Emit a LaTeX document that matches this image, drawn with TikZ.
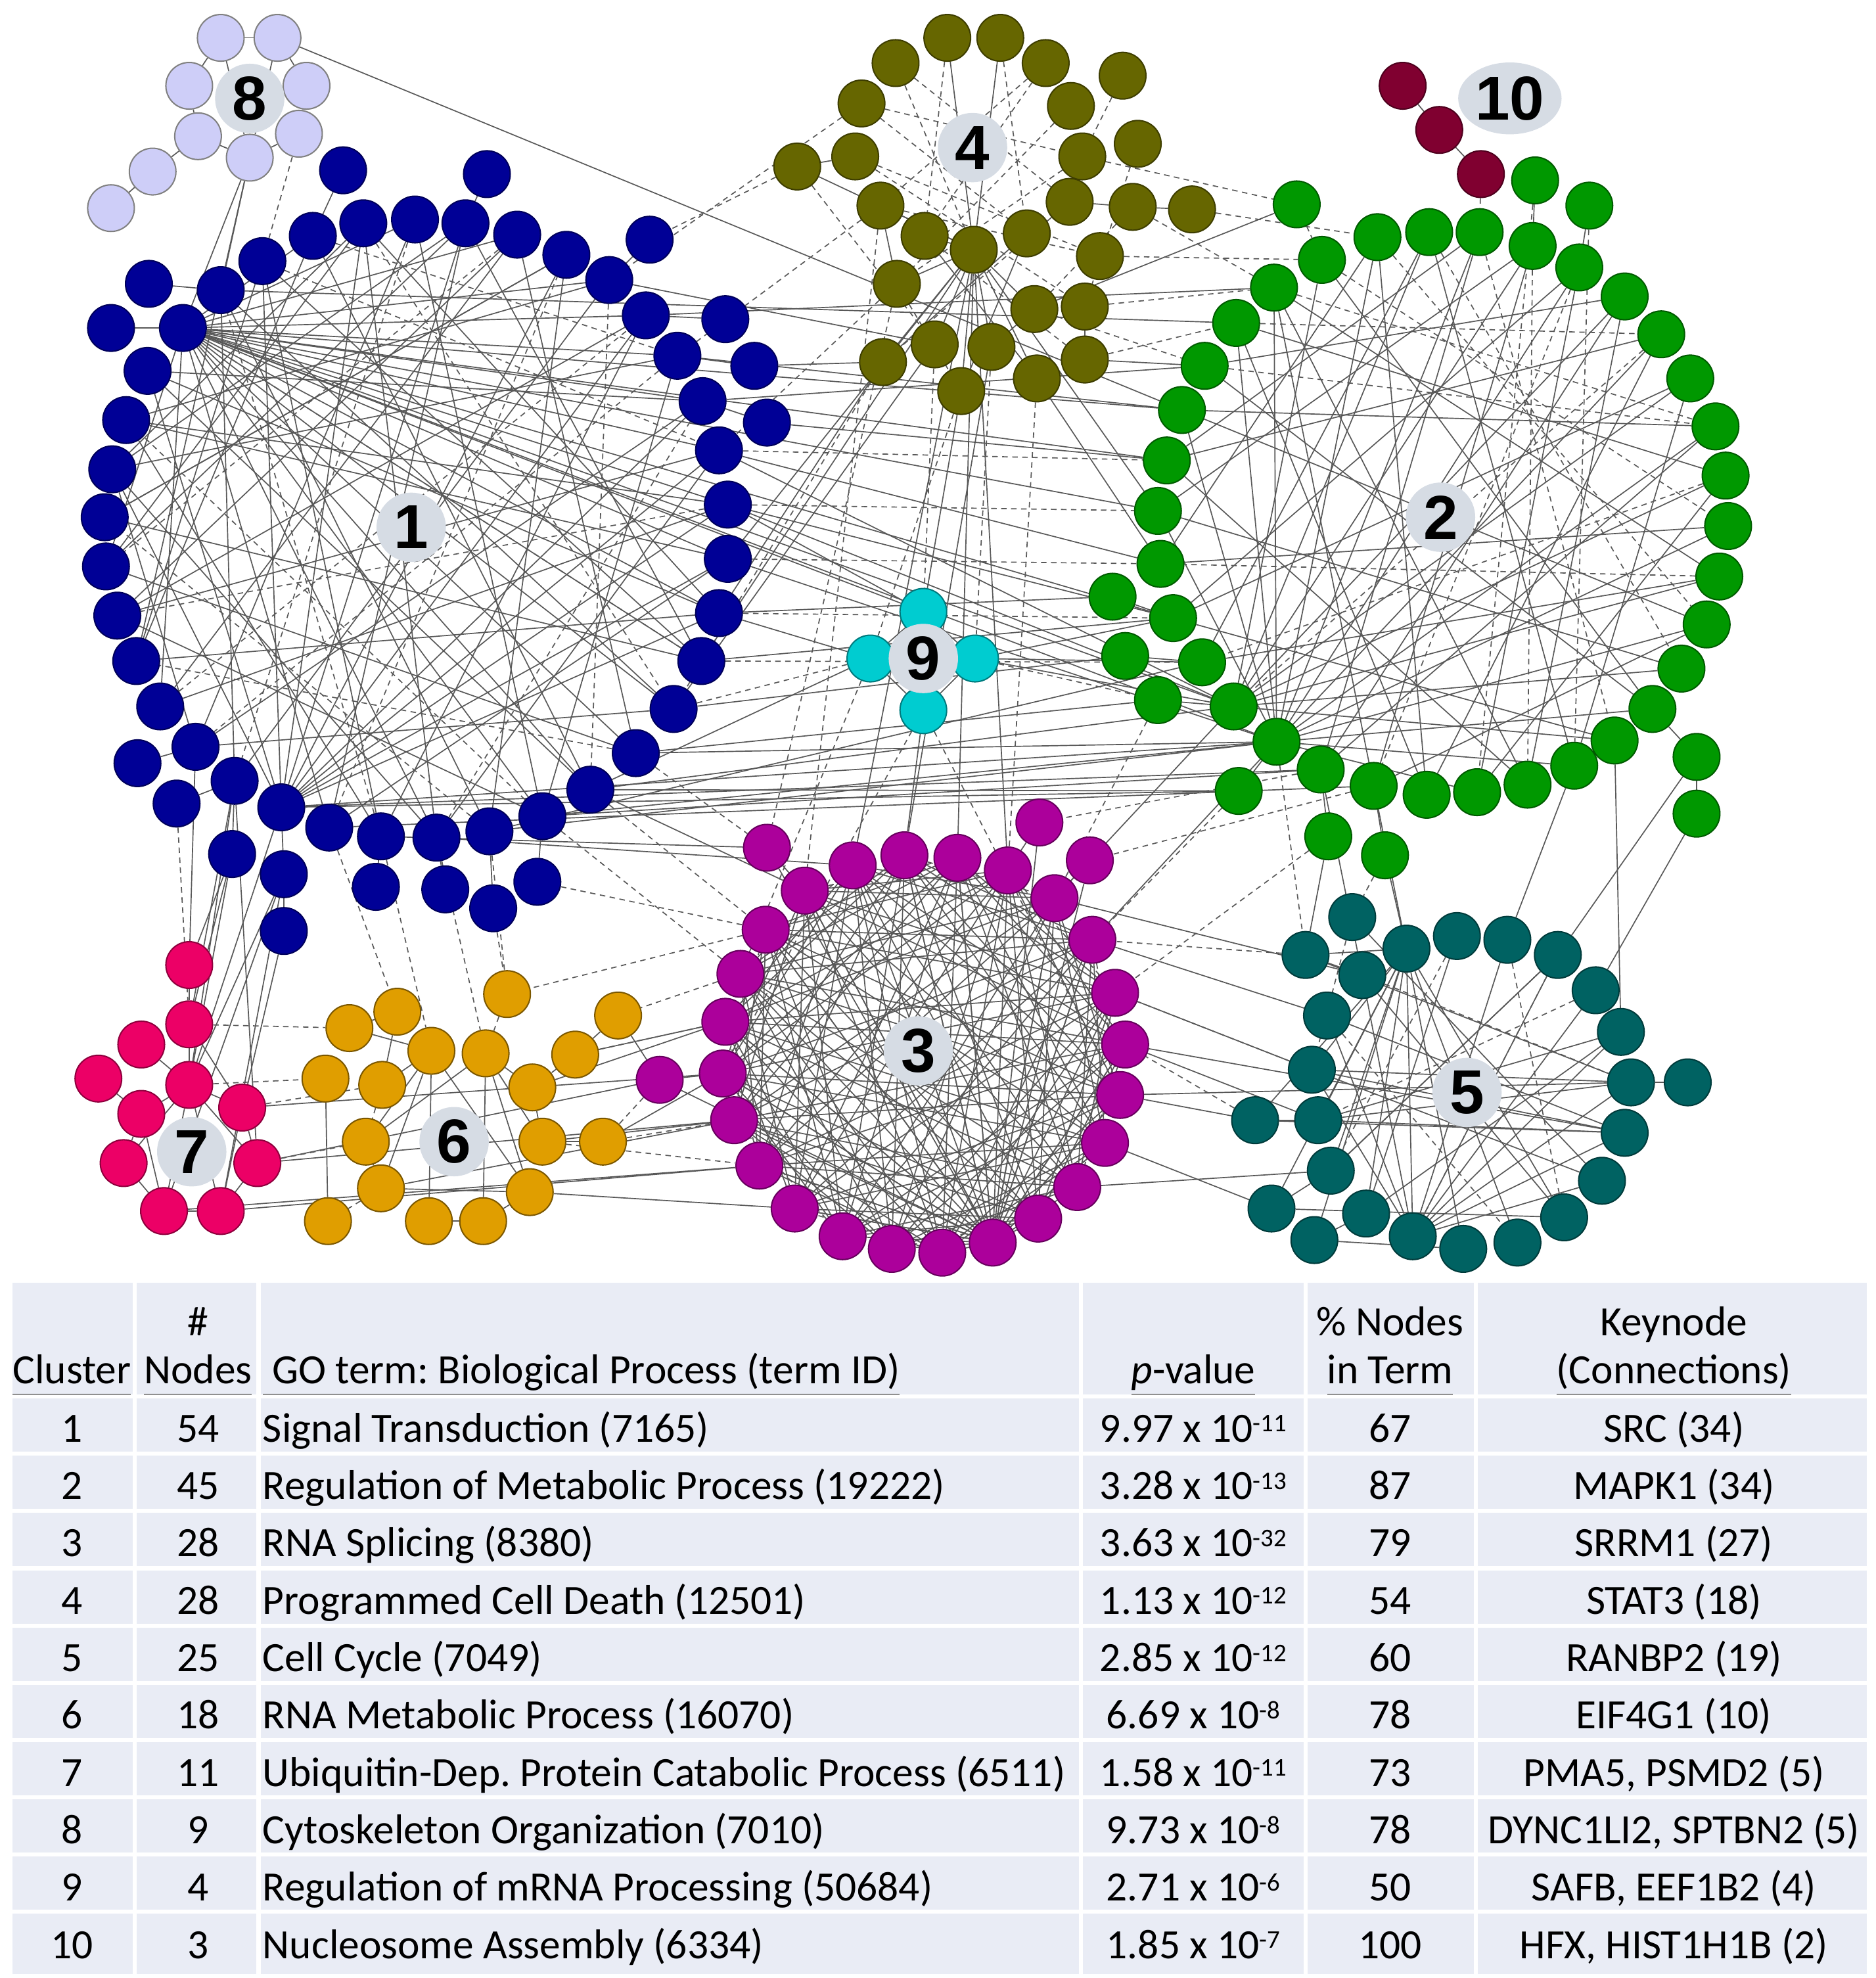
\documentclass[tikz,border=0pt]{standalone}
\usepackage{fontspec}
\setmainfont{Carlito}
\newfontfamily\badgefont{Liberation Sans}
\usetikzlibrary{shapes.geometric}
\frenchspacing

\definecolor{sigblue}{RGB}{0,0,150}
\definecolor{metgreen}{RGB}{0,152,0}
\definecolor{splmag}{RGB}{172,0,155}
\definecolor{pcdolive}{RGB}{102,102,0}
\definecolor{cycteal}{RGB}{0,98,98}
\definecolor{rnagold}{RGB}{224,158,0}
\definecolor{ubqpink}{RGB}{236,0,102}
\definecolor{cytlav}{RGB}{206,206,248}
\definecolor{mrncyan}{RGB}{0,204,208}
\definecolor{nucwine}{RGB}{128,0,48}
\definecolor{badgebg}{RGB}{214,220,228}
\definecolor{tablebg}{RGB}{233,236,245}
\definecolor{linkgray}{RGB}{88,88,88}

\pgfdeclarelayer{links}
\pgfsetlayers{links,main}

\newcommand{\pexp}[1]{\raisebox{4.6pt}{\fontsize{11.5}{12}\selectfont#1}}
\newcommand{\hdul}[1]{\underline{#1\vphantom{gy()}}}

\tikzset{
  gene/.style={circle, minimum size=0.74cm, inner sep=0pt, line width=0.6pt},
  sig/.style={gene, fill=sigblue, draw=sigblue!60!black},
  met/.style={gene, fill=metgreen, draw=metgreen!60!black},
  spl/.style={gene, fill=splmag, draw=splmag!60!black},
  pcd/.style={gene, fill=pcdolive, draw=pcdolive!60!black},
  cyc/.style={gene, fill=cycteal, draw=cycteal!60!black},
  rna/.style={gene, fill=rnagold, draw=rnagold!55!black},
  ubq/.style={gene, fill=ubqpink, draw=ubqpink!60!black},
  cyt/.style={gene, fill=cytlav, draw=gray},
  mrn/.style={gene, fill=mrncyan, draw=mrncyan!60!black},
  nuc/.style={gene, fill=nucwine, draw=nucwine!60!black},
  link/.style={draw=linkgray, line width=0.5pt},
  dlink/.style={link, dash pattern=on 2.5pt off 2pt},
  badge/.style={circle, fill=badgebg, minimum size=1.1cm, inner sep=0pt,
    font=\badgefont\bfseries\fontsize{28}{28}\selectfont},
  cell/.style={inner sep=0pt, anchor=base, font=\fontsize{18.8}{22}\selectfont},
  gridline/.style={white, line width=1.8pt}
}

\begin{document}
\begin{tikzpicture}[x=0.02cm,y=-0.02cm]
\useasboundingbox (0,0) rectangle (1487,1568);

% cluster 1: signal transduction
\foreach \x/\y [count=\i] in {208/207,248/187,288/177,329/174,369/177,410/186,449/202,483/222,512/250,537/282,
  557/318,570/357,577/400,577/443,570/486,556/524,534/562,504/597,468/626,430/647,
  388/659,346/664,302/663,261/656,223/640,186/619,155/592,127/560,108/524,93/488,
  84/449,83/410,89/372,100/333,117/294,145/260,175/230,118/225,88/260,109/605,
  140/637,515/190,575/253,598/290,608/335,272/135,386/138,184/677,225/693,225/738,
  298/703,353/705,391/720,426/699}
  \node[sig] (sig\i) at (\x,\y) {};

% cluster 2: metabolic process
\foreach \x/\y [count=\i] in {1010/228,1048/206,1092/188,1133/184,1173/184,1215/195,1252/212,1288/235,1317/265,1340/300,
  1360/338,1368/377,1370/417,1363/457,1353/495,1333/530,1310/562,1280/587,1248/607,1211/622,
  1171/628,1131/630,1089/623,1047/610,1012/588,978/560,953/525,930/490,920/447,918/405,
  925/365,937/325,955/290,980/256,1028/162,1217/143,1260/163,882/473,892/520,918/555,
  1345/600,982/627,1345/645,1053/663,1098/678}
  \node[met] (met\i) at (\x,\y) {};

% cluster 3: splicing
\foreach \x/\y [count=\i] in {638/706,676/686,717/678,759/680,799/690,836/712,866/745,884/787,892/828,888/868,
  876/906,854/941,823/966,787/985,747/993,707/990,668/980,630/958,602/924,582/888,
  573/851,575/810,587/772,607/737,608/672,824/652,864/682,523/856}
  \node[spl] (spl\i) at (\x,\y) {};

% cluster 4: cell death
\foreach \x/\y [count=\i] in {751/30,793/30,710/50,829/50,890/60,683/82,849/84,902/114,632/132,678/124,
  858/124,698/163,848/160,898/164,945/166,733/187,772/198,814/185,872/203,711/225,
  820/245,860/243,700/287,741/273,786/275,822/300,762/310,860/285}
  \node[pcd] (pcd\i) at (\x,\y) {};

% cluster 5: cell cycle
\foreach \x/\y [count=\i] in {1052/805,1080/773,1115/752,1155/742,1195/745,1235/757,1265/785,1285/818,1293/858,1288/898,
  1270/936,1240/965,1203/985,1160/990,1120/980,1083/962,1055/928,1045/888,1040/848,1072/727,
  1035/757,1338/858,995/888,1008/958,1042/983}
  \node[cyc] (cyc\i) at (\x,\y) {};

% cluster 6: RNA metabolic process
\foreach \x/\y [count=\i] in {315/802,402/788,277/815,490/805,342/833,385/835,456/836,258/855,303/860,422/862,
  290/905,430/905,478/905,302/942,420/945,260/968,340/968,383/968}
  \node[rna] (rna\i) at (\x,\y) {};

% cluster 7: ubiquitin
\foreach \x/\y [count=\i] in {150/765,150/812,112/828,78/855,150/860,112/883,192/878,98/922,204/922,130/960,175/960}
  \node[ubq] (ubq\i) at (\x,\y) {};

% cluster 8: cytoskeleton
\foreach \x/\y [count=\i] in {175/30,220/30,150/68,243/68,157/108,237/106,198/125,121/136,88/165}
  \node[cyt] (cyt\i) at (\x,\y) {};

% cluster 9 and 10
\foreach \x/\y [count=\i] in {732/485,690/522,773/522,732/563}
  \node[mrn] (mrn\i) at (\x,\y) {};
\foreach \x/\y [count=\i] in {1112/68,1141/103,1174/138}
  \node[nuc] (nuc\i) at (\x,\y) {};

% cluster labels
\node[badge] (lab1) at (326,418) {1};
\node[badge] (lab2) at (1142,410) {2};
\node[badge] (lab3) at (728,833) {3};
\node[badge] (lab4) at (771,117) {4};
\node[badge] (lab5) at (1163,866) {5};
\node[badge] (lab6) at (360,905) {6};
\node[badge] (lab7) at (152,913) {7};
\node[badge] (lab8) at (198,78) {8};
\node[badge] (lab9) at (732,522) {9};
\node[badge, ellipse, minimum width=1.64cm, minimum height=1.14cm] (lab10) at (1197,78) {10};

\begin{pgfonlayer}{links}
% inside the clusters
\foreach \a/\b in {36/2,36/4,36/6,36/8,36/9,36/10,36/11,36/12,36/13,36/14,36/15,36/16,36/17,36/18,36/19,36/20,
  36/22,36/24,36/28,36/31,25/1,25/3,25/5,25/7,25/9,25/11,25/12,25/13,25/14,25/15,25/33,25/35,
  1/16,1/23,2/19,2/29,3/15,3/22,3/31,4/20,4/27,5/16,5/24,5/33,6/18,6/28,7/21,7/32,8/26,8/34,
  9/23,9/30,10/20,10/33,11/27,11/35,12/22,12/30,13/28,14/24,14/34,15/29,16/32,17/27,17/37,
  18/31,19/35,20/30,21/37,22/33,23/34,26/37,27/33,29/1,30/6,31/5,32/7,33/3,34/13,35/15,
  38/37,39/36,40/27,41/26,42/8,43/9,44/10,45/11,46/2,47/5,48/26,49/25,50/49,51/23,52/22,53/21,54/20}
  \draw[link] (sig\a) -- (sig\b);
\foreach \a/\b in {1/12,2/10,3/17,4/26,6/31,8/19,10/27,11/22,13/30,16/36,18/29,20/34,21/32,23/37,24/7,28/9}
  \draw[dlink] (sig\a) -- (sig\b);

\foreach \a/\b in {25/1,25/3,25/5,25/7,25/9,25/11,25/13,25/15,25/17,25/19,25/21,25/30,25/32,25/34,
  26/2,26/4,26/6,26/8,26/10,26/12,26/14,26/16,26/18,
  1/14,1/20,2/17,3/22,3/29,4/19,4/27,5/24,5/31,6/23,6/30,7/21,7/28,8/20,8/33,9/22,9/31,10/19,
  10/28,11/24,11/32,12/21,12/34,13/29,14/27,15/23,15/32,16/30,17/33,18/28,20/31,22/34,23/1,24/8,
  36/6,37/7,38/28,39/27,40/26,41/17,43/41,42/25,44/24,45/23}
  \draw[link] (met\a) -- (met\b);
\foreach \a/\b in {1/11,2/13,3/15,4/16,5/18,6/20,7/23,9/26,12/27,14/29,33/11,34/9,36/21,37/19,35/2}
  \draw[dlink] (met\a) -- (met\b);

\foreach \i in {1,...,24}
  \foreach \k in {4,5,7,8,10,11} {
    \pgfmathtruncatemacro{\j}{mod(\i+\k-1,24)+1}
    \draw[link] (spl\i) -- (spl\j);
  }
\foreach \j in {1,...,13} \draw[link] (spl14) -- (spl\j);
\foreach \j in {15,...,28} \draw[link] (spl14) -- (spl\j);
\foreach \i in {1,3,...,23} {
  \pgfmathtruncatemacro{\j}{mod(\i+2,24)+1}
  \draw[dlink] (spl\i) -- (spl\j);
}
\foreach \a/\b in {25/1,26/5,27/6,28/21} \draw[link] (spl\a) -- (spl\b);

\foreach \a/\b in {17/1,17/2,17/12,17/16,17/20,17/21,17/23,17/24,17/25,17/26,17/27,17/9,9/10,13/14,14/15,
  12/20,18/23,18/27,16/26,21/25,22/28}
  \draw[link] (pcd\a) -- (pcd\b);
\foreach \a/\b in {6/11,3/13,4/12,10/22,7/20,9/24,12/19,11/20,13/23,3/17,4/16,6/18,14/21,16/28,1/16,2/18,
  10/19,8/22,5/11,20/27}
  \draw[dlink] (pcd\a) -- (pcd\b);

\foreach \a/\b in {3/12,3/13,3/14,3/15,3/16,3/17,3/18,3/19,3/21,3/23,3/24,3/25,
  15/1,15/2,15/5,15/6,15/7,15/8,15/9,15/10,15/11,15/19,
  18/8,18/9,18/10,19/9,19/10,19/11,1/10,2/12,16/8,17/6,20/11,21/9,23/10,24/12,25/14,
  21/2,23/18,24/17,25/16,22/9,4/16,6/17}
  \draw[link] (cyc\a) -- (cyc\b);
\foreach \a/\b in {4/17,6/15,2/9,7/18,1/13,5/12,20/19} \draw[dlink] (cyc\a) -- (cyc\b);

\foreach \a/\b in {5/17,5/14,5/11,5/15,6/18,6/15,6/11,6/12,6/10,5/9,14/15,17/18,18/15,13/12,4/7,1/9,
  10/12,8/16,3/5,11/14}
  \draw[link] (rna\a) -- (rna\b);
\foreach \a/\b in {2/6,1/3,14/16,7/10,9/11} \draw[dlink] (rna\a) -- (rna\b);

\foreach \a/\b in {5/2,5/6,5/7,5/8,5/9,5/10,5/11,8/10,9/11,10/11,4/6,6/8,7/9,3/5,1/2,2/7,6/10,7/11}
  \draw[link] (ubq\a) -- (ubq\b);
\foreach \a/\b in {1/2,1/3,2/4,3/5,4/6,5/7,6/7,5/8,8/9,1/7,2/7}
  \draw[link] (cyt\a) -- (cyt\b);
\foreach \a/\b in {1/2,1/3,2/4,3/4} \draw[link] (mrn\a) -- (mrn\b);
\foreach \a/\b in {1/2,2/3} \draw[link] (nuc\a) -- (nuc\b);

% between the clusters
\foreach \a/\b in {sig36/met32,sig36/met31,sig36/met30,sig36/met28,sig36/met26,sig36/mrn1,sig36/met25,
  sig37/met34,sig13/met26,sig14/met25,sig12/met29,sig15/met38,sig25/met25,sig25/met24,sig25/met42,
  sig20/met25,sig19/met26,sig21/met27,sig24/met23,sig22/spl2,sig19/spl1,sig23/spl25,sig16/met28,
  sig17/met39,sig18/met40,sig10/met32,sig11/met33,sig9/met1,sig45/met31,sig44/pcd23,sig8/pcd24,
  cyt2/met32,cyt7/sig36,cyt7/sig37,cyt7/sig29,sig48/ubq1,sig48/ubq2,sig48/ubq5,sig49/ubq5,
  sig49/ubq10,sig49/ubq11,sig26/ubq2,sig26/ubq9,sig50/ubq7,sig25/ubq5,sig26/ubq5,sig27/ubq1,
  pcd17/spl4,pcd17/spl5,pcd17/spl2,pcd17/sig14,pcd17/sig16,pcd17/met30,pcd25/spl3,pcd27/mrn1,
  pcd24/sig17,pcd23/sig15,pcd26/met29,pcd28/met33,met35/pcd21,met26/spl6,met25/spl7,met24/cyc2,
  met23/cyc3,met44/cyc21,met45/cyc3,met41/cyc6,met43/cyc7,met19/cyc5,met18/cyc8,spl8/cyc19,
  spl9/cyc18,spl10/cyc23,spl11/cyc24,spl7/cyc1,spl12/cyc17,spl9/cyc10,spl10/cyc9,spl6/cyc2,
  spl28/rna4,spl21/rna13,spl20/rna12,spl22/rna7,spl19/ubq11,spl20/ubq9,spl21/ubq7,spl18/rna15,
  spl28/ubq9,spl22/rna10,spl20/rna14,spl19/ubq10,mrn3/met27,mrn3/met28,mrn2/sig15,mrn1/sig13,
  mrn4/spl3,mrn2/sig19,mrn3/met26,sig20/met24,sig19/met42,sig21/met25,sig18/met25,sig12/met26,sig13/met28}
  \draw[link] (\a) -- (\b);
\foreach \a/\b in {pcd9/sig42,pcd6/sig8,pcd12/sig10,pcd20/sig12,pcd23/sig17,pcd24/mrn1,pcd27/mrn2,
  pcd25/mrn3,pcd26/spl5,pcd28/met34,pcd22/met1,pcd19/met2,pcd21/met33,pcd11/met35,pcd15/met3,
  pcd14/met1,pcd12/spl1,pcd20/spl25,sig12/met31,sig13/met30,sig14/met29,sig15/met28,sig16/met27,
  sig19/spl24,sig20/spl23,sig21/rna2,sig22/rna6,sig24/rna1,sig23/rna5,sig18/spl25,sig17/mrn2,
  mrn4/spl21,mrn4/spl10,mrn3/met40,mrn2/spl23,met40/spl6,met42/spl7,met44/spl8,met45/cyc20,
  met25/cyc21,met24/spl26,met23/spl27,spl28/rna13,spl23/rna4,spl24/rna2,rna13/spl20,rna12/spl19,
  ubq7/rna9,ubq9/rna11,ubq2/rna3,ubq5/rna8,rna7/spl22,cyc21/spl7,cyc23/spl9,cyc19/spl8,nuc3/met5,
  cyt6/sig1,sig41/ubq2,sig53/rna2,sig54/spl24}
  \draw[dlink] (\a) -- (\b);
\end{pgfonlayer}

% table
\fill[tablebg] (10,1017) rectangle (1480,1565);
\foreach \x in {107,205,857,1035,1170} \draw[gridline] (\x,1017) -- (\x,1565);
\foreach \r in {0,...,9} \draw[gridline] (10,{1107+45.4*\r}) -- (1480,{1107+45.4*\r});

\node[cell] (hnum1) at (157,1059) {\#};
\node[cell] (hpct1) at (1102,1059) {\% Nodes};
\node[cell] (hkey1) at (1327,1059) {Keynode};
\node[cell] (hclu) at (57,1097) {\hdul{Cluster}};
\node[cell] (hnum2) at (157,1097) {\hdul{Nodes}};
\node[cell, anchor=base west] (hgo) at (208,1097) {\hdul{\ GO term: Biological Process (term ID)}};
\node[cell] (hpv) at (946,1097) {\hdul{\textit{p}-value}};
\node[cell] (hpct2) at (1102,1097) {\hdul{in Term}};
\node[cell] (hkey2) at (1327,1097) {\hdul{(Connections)}};

\foreach \c/\n/\go/\p/\pc/\kn [count=\r] in {
  1/54/Signal Transduction (7165)/9.97 x 10\pexp{-11}/67/SRC (34),
  2/45/Regulation of Metabolic Process (19222)/3.28 x 10\pexp{-13}/87/MAPK1 (34),
  3/28/RNA Splicing (8380)/3.63 x 10\pexp{-32}/79/SRRM1 (27),
  4/28/Programmed Cell Death (12501)/1.13 x 10\pexp{-12}/54/STAT3 (18),
  5/25/Cell Cycle (7049)/2.85 x 10\pexp{-12}/60/RANBP2 (19),
  6/18/RNA Metabolic Process (16070)/6.69 x 10\pexp{-8}/78/EIF4G1 (10),
  7/11/Ubiquitin-Dep. Protein Catabolic Process (6511)/1.58 x 10\pexp{-11}/73/{PMA5, PSMD2 (5)},
  8/9/Cytoskeleton Organization (7010)/9.73 x 10\pexp{-8}/78/{DYNC1LI2, SPTBN2 (5)},
  9/4/Regulation of mRNA Processing (50684)/2.71 x 10\pexp{-6}/50/{SAFB, EEF1B2 (4)},
  10/3/Nucleosome Assembly (6334)/1.85 x 10\pexp{-7}/100/{HFX, HIST1H1B (2)}} {
  \pgfmathsetmacro{\yb}{1143+45.5*(\r-1)}
  \node[cell] (clu\r) at (57,\yb) {\c};
  \node[cell] (num\r) at (157,\yb) {\n};
  \node[cell, anchor=base west] (go\r) at (208,\yb) {\go};
  \node[cell] (pv\r) at (946,\yb) {\p};
  \node[cell] (pct\r) at (1102,\yb) {\pc};
  \node[cell] (key\r) at (1327,\yb) {\kn};
}
\end{tikzpicture}
\end{document}
